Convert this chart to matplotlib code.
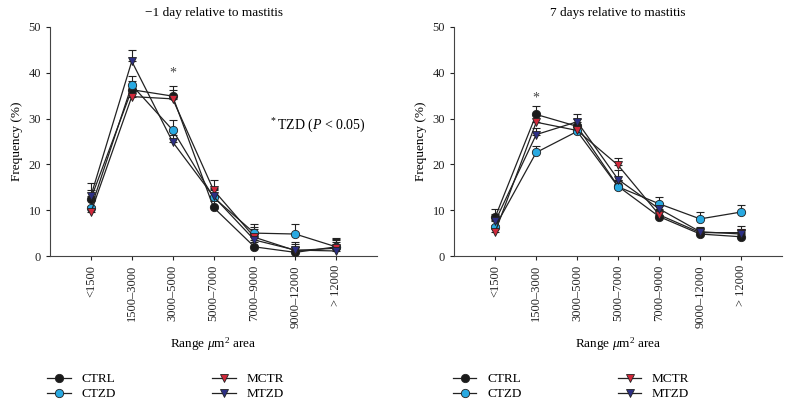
import numpy as np
import matplotlib
matplotlib.use('Agg')
from matplotlib import pyplot as plt
from matplotlib.lines import Line2D

plt.rcParams['font.family'] = ['Liberation Serif', 'DejaVu Serif']
plt.rcParams['mathtext.fontset'] = 'custom'
plt.rcParams['mathtext.rm'] = 'Liberation Serif'
plt.rcParams['mathtext.it'] = 'Liberation Serif:italic'

categories = ['<1500', '1500\u20133000', '3000\u20135000', '5000\u20137000',
              '7000\u20139000', '9000\u201312000', '> 12000']
groups = ['CTRL', 'CTZD', 'MCTR', 'MTZD']

# -1 day relative to mastitis
day_m1 = {
    'CTRL': [12.5, 36.3, 34.9, 10.6, 2.0, 0.8, 2.0],
    'CTZD': [10.4, 37.3, 27.5, 12.8, 5.0, 4.8, 2.0],
    'MCTR': [9.5, 34.8, 34.3, 14.4, 4.1, 1.2, 1.7],
    'MTZD': [13.1, 42.5, 24.9, 13.0, 3.5, 1.3, 1.1],
}
err_m1 = {
    'CTRL': [1.8, 2.0, 2.3, 1.5, 1.0, 1.2, 1.5],
    'CTZD': [1.8, 1.9, 2.2, 1.8, 2.0, 2.2, 2.0],
    'MCTR': [1.5, 1.5, 2.0, 2.1, 2.2, 1.5, 2.0],
    'MTZD': [2.8, 2.5, 1.5, 1.8, 2.5, 1.8, 2.0],
}
# 7 days relative to mastitis
day_7 = {
    'CTRL': [8.5, 30.9, 28.3, 15.2, 8.6, 4.8, 4.2],
    'CTZD': [6.4, 22.6, 27.2, 15.1, 11.4, 8.1, 9.6],
    'MCTR': [5.3, 29.2, 27.4, 19.8, 9.0, 5.1, 5.1],
    'MTZD': [7.6, 26.5, 29.3, 16.7, 10.3, 5.3, 4.8],
}
err_7 = {
    'CTRL': [1.8, 1.8, 1.5, 1.2, 1.0, 0.6, 1.0],
    'CTZD': [1.5, 1.5, 1.5, 1.5, 1.4, 1.6, 1.6],
    'MCTR': [1.5, 1.6, 1.5, 1.6, 1.0, 1.0, 1.5],
    'MTZD': [1.5, 1.5, 1.7, 2.0, 1.3, 1.0, 1.2],
}

styles = {
    'CTRL': dict(marker='o', mfc='#1a1a1a', ms=6),
    'CTZD': dict(marker='o', mfc='#29a9e1', ms=6),
    'MCTR': dict(marker='v', mfc='#d0283a', ms=6),
    'MTZD': dict(marker='v', mfc='#2c2f84', ms=6),
}

fig = plt.figure(figsize=(7.9, 4.08), dpi=100)
ax1 = fig.add_axes([0.0633, 0.3725, 0.414, 0.5615])
ax2 = fig.add_axes([0.575, 0.3725, 0.415, 0.5615])

x = np.arange(len(categories))


def draw(ax, data, err, title):
    for g in groups:
        y = np.array(data[g])
        e = np.array(err[g])
        ax.errorbar(x, y, yerr=[np.zeros_like(e), e], fmt='none', ecolor='#222222',
                    elinewidth=0.8, capsize=3, capthick=0.8, zorder=2)
        ax.plot(x, y, color='#222222', lw=0.9, mec='#222222', mew=0.6,
                zorder=3, **styles[g])
    ax.set_xlim(-1, 7)
    ax.set_ylim(0, 50)
    ax.set_yticks(range(0, 51, 10))
    ax.set_xticks(x)
    ax.set_xticklabels(categories, rotation=90, fontsize=9)
    ax.tick_params(axis='y', labelsize=9, length=3, width=0.8, colors='#222222')
    ax.tick_params(axis='x', length=3, width=0.8, colors='#222222')
    for s in ['top', 'right']:
        ax.spines[s].set_visible(False)
    for s in ['left', 'bottom']:
        ax.spines[s].set_color('#444444')
        ax.spines[s].set_linewidth(0.8)
    ax.set_title(title, fontsize=9.5, pad=8)
    ax.set_ylabel('Frequency (%)', fontsize=9.5)
    ax.set_xlabel(r'Range $\mathit{\mu}$m$^2$ area', fontsize=9.5, labelpad=6)


draw(ax1, day_m1, err_m1, '\u22121 day relative to mastitis')
draw(ax2, day_7, err_7, '7 days relative to mastitis')

ax1.text(2, 40, '*', ha='center', va='center', fontsize=10, color='#444444')
ax1.text(6.72, 28.5, r'$^*$TZD ($\mathit{P}$ < 0.05)', ha='right', va='center', fontsize=10)
ax2.text(1, 34.5, '*', ha='center', va='center', fontsize=10, color='#444444')

handles = []
for g in groups:
    handles.append(Line2D([0], [0], color='#222222', lw=0.9, mec='#222222', mew=0.6,
                          label=g, **styles[g]))

for xl in [0.045, 0.558]:
    fig.legend(handles=handles, loc='lower left', bbox_to_anchor=(xl, -0.01), ncol=2,
               frameon=False, fontsize=9.5, handlelength=1.8, columnspacing=7.3,
               labelspacing=0.2, handletextpad=0.8)

fig.savefig('out.png', dpi=100)
